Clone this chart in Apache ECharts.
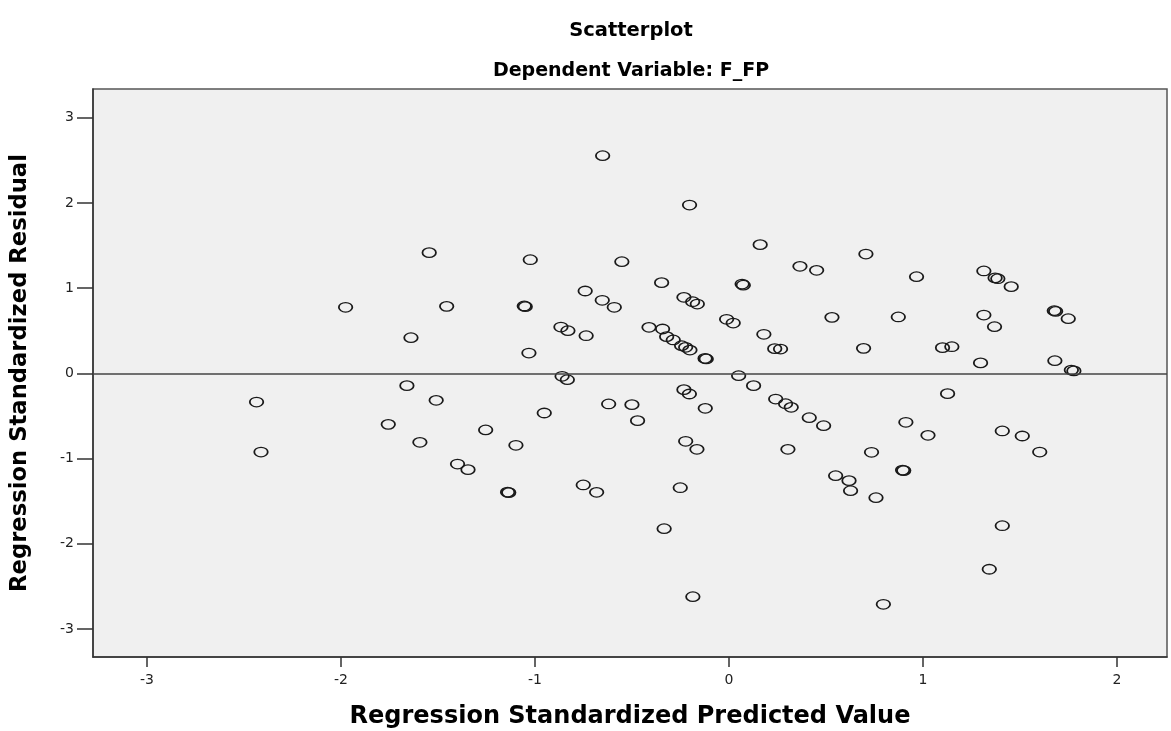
<!DOCTYPE html>
<html>
<head>
<meta charset="utf-8">
<script src="https://cdn.jsdelivr.net/npm/echarts@6/dist/echarts.min.js"></script>
<style>
html,body{margin:0;padding:0;background:#fff;}
#chart{width:1171px;height:731px;}
</style>
</head>
<body>
<div id="chart"></div>
<script>
// Regression standardized predicted values (x) and residuals (y)
var predicted = [
 -1.545,-1.976,-1.455,-1.639,-0.651,-0.203,-1.024,-0.552,0.161,0.366,
 0.452,0.706,-0.347,0.068,0.074,-0.741,-0.653,-0.591,-1.055,-1.050,
 -0.232,-0.187,-0.163,0.531,-0.012,0.022,-0.866,-0.830,-0.736,-1.031,
 -0.412,-0.342,-0.321,-0.287,-0.244,-0.223,-0.201,-0.123,-0.117,0.180,
 0.236,0.266,0.694,-0.860,-0.833,0.050,0.967,1.314,1.372,1.386,
 1.455,0.873,1.314,1.369,1.677,1.684,1.749,1.101,1.149,1.297,
 1.680,1.765,1.778,-2.435,-2.412,-1.660,-1.509,-1.756,-1.593,-1.254,
 -1.399,-1.345,-1.098,-1.141,-1.135,-0.952,-0.620,-0.500,-0.471,-0.751,
 -0.682,-0.232,-0.204,-0.122,-0.223,-0.165,-0.251,-0.334,-0.186,0.127,
 0.241,0.292,0.321,0.414,0.488,0.304,0.735,0.550,0.619,0.627,
 0.758,0.796,1.127,0.912,1.026,0.895,0.901,1.409,1.512,1.602,
 1.409,1.342
];
var residual = [
 1.416,0.775,0.786,0.418,2.554,1.975,1.333,1.310,1.510,1.256,
 1.209,1.400,1.064,1.048,1.034,0.966,0.857,0.775,0.790,0.782,
 0.892,0.840,0.813,0.657,0.634,0.590,0.543,0.500,0.441,0.238,
 0.540,0.520,0.430,0.391,0.324,0.305,0.273,0.175,0.168,0.458,
 0.289,0.285,0.293,-0.035,-0.075,-0.028,1.134,1.201,1.120,1.110,
 1.017,0.661,0.684,0.547,0.735,0.727,0.641,0.301,0.312,0.122,
 0.148,0.038,0.028,-0.337,-0.924,-0.145,-0.317,-0.599,-0.810,-0.665,
 -1.065,-1.131,-0.845,-1.395,-1.400,-0.466,-0.360,-0.368,-0.556,-1.311,
 -1.397,-0.192,-0.243,-0.411,-0.798,-0.892,-1.343,-1.824,-2.622,-0.145,
 -0.302,-0.357,-0.399,-0.521,-0.615,-0.892,-0.927,-1.202,-1.260,-1.378,
 -1.460,-2.711,-0.239,-0.575,-0.728,-1.136,-1.142,-0.677,-0.736,-0.924,
 -1.789,-2.300
];
var xTicks = [-3,-2,-1,0,1,2];
var yTicks = [-3,-2,-1,0,1,2,3];

var points = predicted.map(function(v,i){ return [v, residual[i]]; });

var chart = echarts.init(document.getElementById('chart'), null, {renderer:'canvas'});
var titleFont = 'DejaVu Sans';
var tickFont = 'DejaVu Sans';
chart.setOption({
  animation:false,
  backgroundColor:'#ffffff',
  title:[
    {text:'Scatterplot', left:626, top:16, textAlign:'center',
     textStyle:{fontFamily:titleFont, fontWeight:'bold', fontSize:19.5, color:'#000'}},
    {text:'Dependent Variable: F_FP', left:626, top:57, textAlign:'center',
     textStyle:{fontFamily:titleFont, fontWeight:'bold', fontSize:19, color:'#000'}}
  ],
  grid:{left:93, right:4, top:89, bottom:74, show:true, backgroundColor:'#f0f0f0',
        borderColor:'#555', borderWidth:1.5, containLabel:false, outerBoundsMode:'none'},
  xAxis:{
    type:'value', min:-3.278, max:2.258,
    name:'Regression Standardized Predicted Value', nameLocation:'middle', nameGap:48,
    nameTextStyle:{fontFamily:titleFont, fontWeight:'bold', fontSize:24, color:'#000'},
    axisLine:{show:true, onZero:false, lineStyle:{color:'#333', width:1.5}},
    axisTick:{show:true, length:10, customValues:xTicks, lineStyle:{color:'#333', width:1.5}},
    axisLabel:{customValues:xTicks, margin:16, fontFamily:tickFont, fontSize:14, color:'#222'},
    splitLine:{show:false}
  },
  yAxis:{
    type:'value', min:-3.330, max:3.337,
    name:'Regression Standardized Residual', nameLocation:'middle', nameGap:61,
    nameTextStyle:{fontFamily:titleFont, fontWeight:'bold', fontSize:22.7, color:'#000'},
    axisLine:{show:true, onZero:false, lineStyle:{color:'#333', width:1.5}},
    axisTick:{show:true, length:16, customValues:yTicks, lineStyle:{color:'#333', width:1.5}},
    axisLabel:{customValues:yTicks, margin:19, fontFamily:tickFont, fontSize:14, color:'#222'},
    splitLine:{show:false}
  },
  series:[{
    type:'scatter',
    data:points,
    symbol:'circle',
    symbolSize:[13.5,9.5],
    itemStyle:{color:'rgba(0,0,0,0)', borderColor:'#1a1a1a', borderWidth:1.5, opacity:1},
    silent:true,
    markLine:{
      silent:true, symbol:['none','none'], label:{show:false},
      lineStyle:{color:'#444', width:1.5, type:'solid'},
      data:[{yAxis:0}]
    }
  }]
});
</script>
</body>
</html>
